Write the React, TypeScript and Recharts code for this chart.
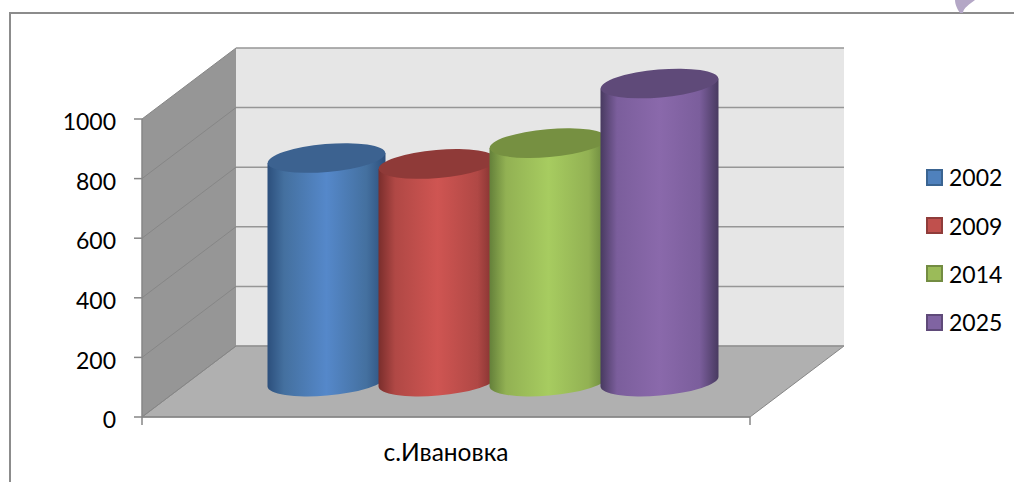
import {
  BarChart,
  Bar,
  XAxis,
  YAxis,
  CartesianGrid,
  ReferenceArea,
  Legend,
} from "recharts";

const categories = ["с.Ивановка"];
const seriesNames = ["2002", "2009", "2014", "2025"];
const values2002 = [750];
const values2009 = [730];
const values2014 = [800];
const values2025 = [1000];
const yTicks = [0, 200, 400, 600, 800, 1000];

const seriesValues = [values2002, values2009, values2014, values2025];
const chartData = categories.map((name, i) => {
  const row: Record<string, string | number> = { name };
  seriesNames.forEach((s, j) => {
    row[s] = seriesValues[j][i];
  });
  return row;
});

const colors: Record<string, any> = {
  "2002": { fill: "#4f81bd", line: "#3a6491", top: "#3c6290", edge: "#2c4f7c", shade: "#44709f", light: "#5588ca" },
  "2009": { fill: "#c0504d", line: "#8f3c3a", top: "#8f3a38", edge: "#7a2e2c", shade: "#b04845", light: "#cf5552" },
  "2014": { fill: "#9bbb59", line: "#738c42", top: "#769041", edge: "#64803a", shade: "#92b153", light: "#a7cc60" },
  "2025": { fill: "#8064a2", line: "#5f4a79", top: "#5f4a79", edge: "#483a60", shade: "#7b5e9c", light: "#8a69ab" },
};

const FONT = "Lato, 'Open Sans', sans-serif";
const DEPTH_X = 94;
const DEPTH_Y = 71;
const AXIS_COLOR = "#868686";

function Walls({ x, y, width, height }: any) {
  const b = y + height;
  const r = x + width;
  return (
    <g>
      <polygon
        points={`${x + DEPTH_X},${y - DEPTH_Y} ${r + DEPTH_X},${y - DEPTH_Y} ${r + DEPTH_X},${b - DEPTH_Y} ${x + DEPTH_X},${b - DEPTH_Y}`}
        fill="#e6e6e6"
      />
      <polygon
        points={`${x},${y} ${x + DEPTH_X},${y - DEPTH_Y} ${x + DEPTH_X},${b - DEPTH_Y} ${x},${b}`}
        fill="#969696"
      />
      <polygon
        points={`${x},${b} ${x + DEPTH_X},${b - DEPTH_Y} ${r + DEPTH_X},${b - DEPTH_Y} ${r},${b}`}
        fill="#b0b0b0"
        stroke={AXIS_COLOR}
        strokeWidth={1}
      />
      <line x1={x} y1={b} x2={x} y2={b + 8} stroke={AXIS_COLOR} strokeWidth={1.5} />
      <line x1={r} y1={b} x2={r} y2={b + 8} stroke={AXIS_COLOR} strokeWidth={1.5} />
    </g>
  );
}

function GridLine({ x1, y1, x2 }: any) {
  const backX = x1 + DEPTH_X;
  const backY = y1 - DEPTH_Y;
  return (
    <g key={y1}>
      <line x1={x1} y1={y1} x2={backX} y2={backY} stroke="#868686" strokeWidth={1} />
      <line x1={backX} y1={backY} x2={x2 + DEPTH_X} y2={backY} stroke="#969696" strokeWidth={1.5} />
    </g>
  );
}

// cylinder stands halfway along the floor depth, so everything is shifted by half the depth
function Cylinder({ x, y, width, height, dataKey }: any) {
  const c = colors[dataKey];
  const id = `body-${dataKey}`;
  const cx = x + width / 2 + DEPTH_X / 2;
  const rx = 59;
  const ry = 14;
  const tilt = 5;
  const topY = y - DEPTH_Y / 2;
  const botY = y + height - DEPTH_Y / 2;
  const left = cx - rx;
  const right = cx + rx;
  return (
    <g>
      <defs>
        <linearGradient id={id} x1="0" y1="0" x2="1" y2="0">
          <stop offset="0%" stopColor={c.edge} />
          <stop offset="14%" stopColor={c.shade} />
          <stop offset="50%" stopColor={c.light} />
          <stop offset="84%" stopColor={c.shade} />
          <stop offset="100%" stopColor={c.edge} />
        </linearGradient>
      </defs>
      <path
        d={`M${left},${topY + tilt} L${left},${botY + tilt} A${rx},${ry} -5 0 0 ${right},${botY - tilt} L${right},${topY - tilt} Z`}
        fill={`url(#${id})`}
      />
      <ellipse
        cx={cx}
        cy={topY}
        rx={rx}
        ry={ry}
        transform={`rotate(-5 ${cx} ${topY})`}
        fill={c.top}
      />
    </g>
  );
}

function LegendBox({ payload }: any) {
  return (
    <div style={{ fontFamily: FONT, fontSize: 23, color: "#000" }}>
      {payload.map((item: any) => (
        <div key={item.value} style={{ display: "flex", alignItems: "center", height: 48.4 }}>
          <span
            style={{
              width: 13,
              height: 13,
              marginRight: 6,
              background: colors[item.value].fill,
              border: `2px solid ${colors[item.value].line}`,
            }}
          />
          {item.value}
        </div>
      ))}
    </div>
  );
}

export default function App() {
  return (
    <div style={{ position: "absolute", left: 0, top: 0, width: 1014, height: 482, background: "#fff", overflow: "hidden" }}>
      <div
        style={{
          position: "absolute",
          left: 9,
          top: 12,
          width: 1005,
          height: 470,
          borderLeft: "2px solid #8c8c8c",
          borderTop: "2px solid #8c8c8c",
          boxSizing: "border-box",
        }}
      />
      <svg style={{ position: "absolute", left: 0, top: 0 }} width={1014} height={20}>
        <path d="M955,0 C955,5 958,10 960,13 L963,13 C963,8 970,4 975,0 Z" fill="#b4a7c6" />
      </svg>
      <div style={{ position: "absolute", left: 0, top: 0 }}>
        <BarChart
          width={1014}
          height={482}
          data={chartData}
          margin={{ top: 119, right: 176, bottom: 15, left: 82 }}
          barCategoryGap={82}
          barGap={0}
        >
          <ReferenceArea y1={0} y2={1000} shape={Walls} ifOverflow="visible" zIndex={-200} />
          <CartesianGrid horizontal={GridLine} vertical={false} />
          <XAxis
            dataKey="name"
            height={50}
            tickLine={false}
            tickMargin={21}
            axisLine={{ stroke: AXIS_COLOR, strokeWidth: 1.5 }}
            tick={{ fill: "#000", fontFamily: FONT, fontSize: 24.5 }}
          />
          <YAxis
            width={60}
            domain={[0, 1000]}
            ticks={yTicks}
            tickSize={8}
            tickMargin={18}
            stroke={AXIS_COLOR}
            axisLine={{ stroke: AXIS_COLOR, strokeWidth: 1.5 }}
            tickLine={{ stroke: AXIS_COLOR, strokeWidth: 1.5 }}
            tick={{ fill: "#000", fontFamily: FONT, fontSize: 23, dy: 3 }}
          />
          <Legend
            layout="vertical"
            align="right"
            verticalAlign="top"
            content={LegendBox}
            wrapperStyle={{ position: "absolute", left: 926, top: 153, width: 88 }}
          />
          {seriesNames.map((s) => (
            <Bar
              key={s}
              dataKey={s}
              fill={colors[s].fill}
              shape={Cylinder}
              isAnimationActive={false}
            />
          ))}
        </BarChart>
      </div>
    </div>
  );
}
